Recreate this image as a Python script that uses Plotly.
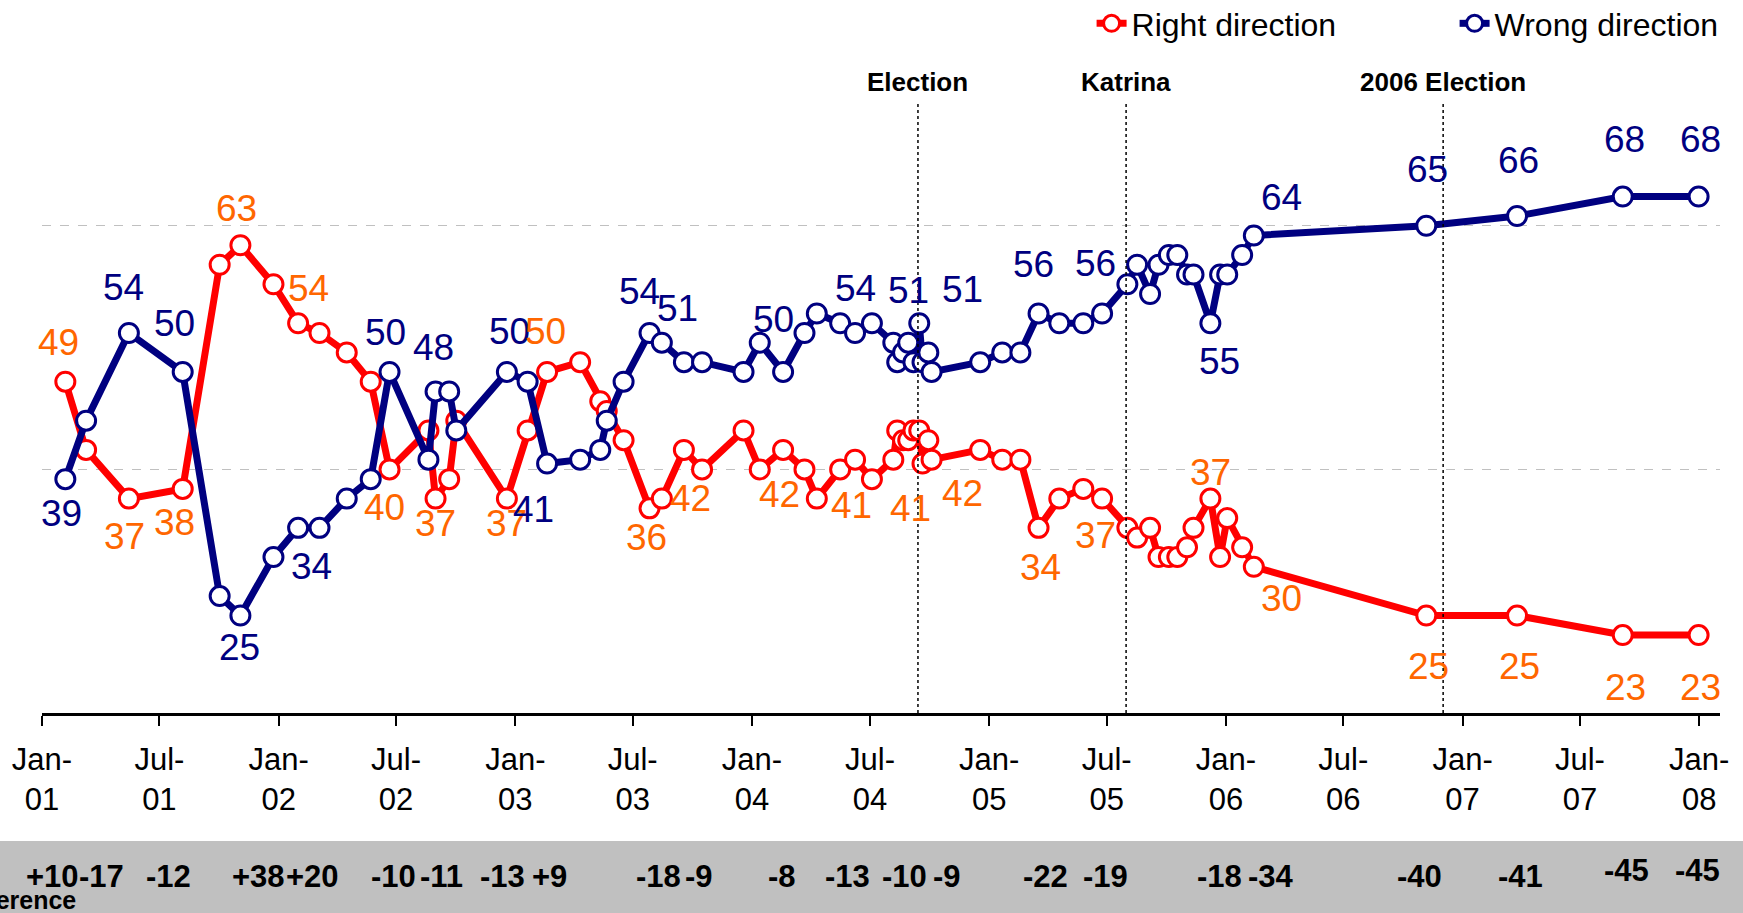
import plotly.graph_objects as go
import pandas as pd

# ---------------- data ----------------
poll_dates = [
    "2001-02-06", "2001-03-10", "2001-05-15", "2001-08-06", "2001-10-02", "2001-11-03",
    "2001-12-24", "2002-01-31", "2002-03-05", "2002-04-16", "2002-05-23", "2002-06-21",
    "2002-08-20", "2002-08-31", "2002-09-21", "2002-10-02", "2002-12-19", "2003-01-20",
    "2003-02-19", "2003-04-11", "2003-05-12", "2003-05-22", "2003-06-17", "2003-07-27",
    "2003-08-15", "2003-09-18", "2003-10-16", "2003-12-19", "2004-01-13", "2004-02-18",
    "2004-03-22", "2004-04-10", "2004-05-16", "2004-06-08", "2004-07-04", "2004-08-06",
    "2004-08-12", "2004-08-21", "2004-08-29", "2004-09-06", "2004-09-15", "2004-09-20",
    "2004-09-29", "2004-10-04", "2004-12-18", "2005-01-21", "2005-02-18", "2005-03-18",
    "2005-04-19", "2005-05-26", "2005-06-24", "2005-08-02", "2005-08-17", "2005-09-06",
    "2005-09-19", "2005-10-05", "2005-10-18", "2005-11-02", "2005-11-12", "2005-12-08",
    "2005-12-23", "2006-01-03", "2006-01-26", "2006-02-13", "2006-11-06", "2007-03-26",
    "2007-09-05", "2007-12-31",
]
right_direction = [
    49, 42, 37, 38, 61, 63,
    59, 55, 54, 52, 49, 40,
    44, 37, 39, 45, 37, 44,
    50, 51, 47, 46, 43, 36,
    37, 42, 40, 44, 40, 42,
    40, 37, 40, 41, 39, 41,
    44, 43, 43, 44, 44, 40.6,
    43, 41, 42, 41, 41, 34,
    37, 38, 37, 34, 33, 34,
    31, 31, 31, 32, 34, 37,
    31, 35, 32, 30, 25, 25,
    23, 23,
]
wrong_direction = [
    39, 45, 54, 50, 27, 25,
    31, 34, 34, 37, 39, 50,
    41, 48, 48, 44, 50, 49,
    40.6, 41, 42, 45, 49, 54,
    53, 51, 51, 50, 53, 50,
    54, 56, 55, 54, 55, 53,
    51, 52, 53, 51, 55, 51,
    52, 50, 51, 52, 52, 56,
    55, 55, 56, 59, 61, 58,
    61, 62, 62, 60, 60, 55,
    60, 60, 62, 64, 65, 66,
    68, 68,
]
# polls that carry value labels and a difference figure
labeled_polls = [0, 2, 3, 5, 8, 11, 13, 16, 18, 23, 25, 29, 33, 41, 44, 47, 50, 59, 63, 64, 65, 66, 67]

event_names = ["Election", "Katrina", "2006 Election"]
event_dates = ["2004-09-13", "2005-07-31", "2006-12-02"]

tick_dates = pd.date_range("2001-01-01", "2008-01-01", freq="6MS")
tick_text = [d.strftime("%b-<br>%y") for d in tick_dates]

# ---------------- styling ----------------
FONT = "Liberation Sans, Arial, sans-serif"
RED = "#FF0000"
NAVY = "#000080"
ORANGE = "#FF6600"

# label offsets in pixels (dx, dy; dy positive = downwards)
red_label_off = {
    0: (-7, -39), 2: (-4, 38), 3: (-8, 34), 5: (-4, -37), 8: (-11, -44), 11: (-5, 38),
    13: (0, 25), 16: (0, 25), 18: (-2, -40), 23: (-3, 29), 25: (7, 49), 29: (-4, 45),
    33: (-4, 46), 41: (-12, 45), 44: (-18, 44), 47: (2, 40), 50: (-7, 37), 59: (0, -26),
    63: (28, 32), 64: (2, 51), 65: (2, 51), 66: (3, 52), 67: (2, 52),
}
blue_label_off = {
    0: (-4, 34), 2: (-5, -45), 3: (-8, -48), 5: (-1, 32), 8: (-8, 39), 11: (-4, -39),
    13: (-2, -44), 16: (3, -40), 18: (-14, 46), 23: (-10, -41), 25: (-6, -54), 29: (-10, -52),
    33: (0, -44), 41: (-14, -72), 44: (-18, -73), 47: (-5, -49), 50: (-7, -50), 59: (9, 38),
    63: (28, -38), 64: (1, -56), 65: (1, -56), 66: (2, -57), 67: (2, -57),
}
diff_label_dx = {
    0: -13, 2: -27, 3: -14, 5: 18, 8: -7, 11: 4, 13: 6, 16: -4, 18: 2, 23: 9, 25: 15,
    29: -1, 33: -8, 41: -18, 44: -33, 47: 7, 50: 3, 59: 9, 63: 17, 64: -7, 65: 3,
    66: 4, 67: -1,
}
diff_label_dy = {66: 6, 67: 6}

fig = go.Figure()
fig.add_trace(go.Scatter(
    x=poll_dates, y=right_direction, name="Right direction", mode="lines+markers",
    line=dict(color=RED, width=7),
    marker=dict(symbol="circle", size=19, color="white", line=dict(color=RED, width=3)),
))
fig.add_trace(go.Scatter(
    x=poll_dates, y=wrong_direction, name="Wrong direction", mode="lines+markers",
    line=dict(color=NAVY, width=7),
    marker=dict(symbol="circle", size=19, color="white", line=dict(color=NAVY, width=3)),
))

annotations = []
for i in labeled_polls:
    for vals, offs, col in ((right_direction, red_label_off, ORANGE),
                            (wrong_direction, blue_label_off, NAVY)):
        dx, dy = offs[i]
        annotations.append(dict(
            x=poll_dates[i], y=vals[i], xref="x", yref="y", text=f"{round(vals[i])}",
            showarrow=False, xanchor="center", yanchor="middle", xshift=dx, yshift=-dy,
            font=dict(family=FONT, size=37, color=col),
        ))
    diff = round(right_direction[i]) - round(wrong_direction[i])
    annotations.append(dict(
        x=poll_dates[i], y=-0.2291, xref="x", yref="paper", text=f"<b>{diff:+d}</b>",
        showarrow=False, xanchor="center", yanchor="middle",
        xshift=diff_label_dx[i], yshift=diff_label_dy.get(i, 0),
        font=dict(family=FONT, size=31, color="black"),
    ))

annotations.append(dict(
    x=0.0215, y=-0.2628, xref="paper", yref="paper", text="<b>Difference</b>",
    showarrow=False, xanchor="right", yanchor="middle",
    font=dict(family=FONT, size=25, color="black"),
))

shapes = [dict(
    type="rect", xref="paper", yref="paper", x0=-0.1, x1=1.1, y0=-0.1796, y1=-0.32,
    fillcolor="#C0C0C0", line=dict(width=0), layer="below",
)]
for name, d in zip(event_names, event_dates):
    shapes.append(dict(
        type="line", xref="x", yref="paper", x0=d, x1=d, y0=0, y1=0.857,
        line=dict(color="black", width=1.5, dash="dot"),
    ))
    annotations.append(dict(
        x=d, y=0.885, xref="x", yref="paper", text=f"<b>{name}</b>", showarrow=False,
        xanchor="center", yanchor="middle", font=dict(family=FONT, size=26, color="black"),
    ))

fig.update_layout(
    width=1743, height=913,
    margin=dict(l=42, r=23, t=0, b=200, pad=0, autoexpand=False),
    paper_bgcolor="white", plot_bgcolor="white",
    font=dict(family=FONT, color="black"),
    showlegend=True,
    legend=dict(
        orientation="h", x=0.6255, xanchor="left", y=0.967, yanchor="middle",
        font=dict(family=FONT, size=32, color="black"), bgcolor="rgba(0,0,0,0)",
        itemwidth=30, entrywidth=318, entrywidthmode="pixels",
    ),
    xaxis=dict(
        type="date", range=["2001-01-01", "2008-02-02"],
        tickvals=list(tick_dates), ticktext=tick_text,
        ticks="outside", ticklen=10, tickwidth=2, tickcolor="black",
        showline=True, linecolor="black", linewidth=2.5, showgrid=False, zeroline=False,
        tickfont=dict(family=FONT, size=31, color="black"), ticklabelstandoff=7,
    ),
    yaxis=dict(
        range=[15, 88.17], tickvals=[40, 65], showticklabels=False, ticks="",
        showgrid=True, gridcolor="#C0C0C0", griddash="dash", gridwidth=1,
        showline=False, zeroline=False,
    ),
    shapes=shapes, annotations=annotations,
)

fig.write_html("out.html", config={"displayModeBar": False},
               post_script="document.body.style.margin='0';")
